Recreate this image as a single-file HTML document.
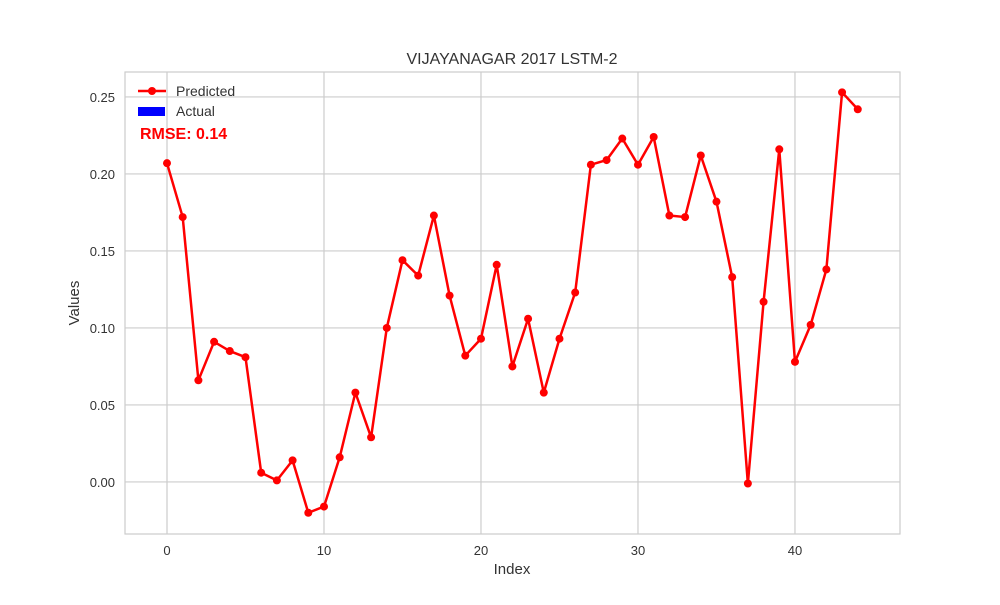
<!DOCTYPE html>
<html><head><meta charset="utf-8"><style>
body{margin:0;background:#fff;font-family:"Liberation Sans",sans-serif;}
</style></head><body>
<svg id="chart" width="1000" height="600" xmlns="http://www.w3.org/2000/svg" font-family="Liberation Sans, sans-serif">
<rect width="1000" height="600" fill="#fff"/>
<g id="grid"></g>
<rect x="125" y="72" width="775" height="462" fill="none" stroke="#ccc" stroke-width="1.2"/>
<g id="ticks"></g>
<g id="series"></g>
<text x="512" y="64" text-anchor="middle" font-size="16" fill="#333">VIJAYANAGAR 2017 LSTM-2</text>
<text x="512" y="574" text-anchor="middle" font-size="15" fill="#333">Index</text>
<text x="79" y="303" text-anchor="middle" font-size="15" fill="#333" transform="rotate(-90 79 303)">Values</text>
<g>
<g>
<line x1="138" y1="91" x2="166" y2="91" stroke="red" stroke-width="2.5"/><circle cx="152" cy="91" r="4" fill="red"/>
<text x="176" y="96" font-size="14" fill="#333">Predicted</text></g>
<g>
<rect x="138" y="107" width="27" height="9" fill="blue"/>
<text x="176" y="116" font-size="14" fill="#333">Actual</text></g>
</g>
<text x="140" y="139" font-size="16" font-weight="bold" fill="red">RMSE: 0.14</text>
</svg>
<script>
const predicted=[0.207,0.172,0.066,0.091,0.085,0.081,0.006,0.001,0.014,-0.020,-0.016,0.016,0.058,0.029,0.100,0.144,0.134,0.173,0.121,0.082,0.093,0.141,0.075,0.106,0.058,0.093,0.123,0.206,0.209,0.223,0.206,0.224,0.173,0.172,0.212,0.182,0.133,-0.001,0.117,0.216,0.078,0.102,0.138,0.253,0.242];
const xTicks=[0,10,20,30,40];
const yTicks=[0.00,0.05,0.10,0.15,0.20,0.25];
const L=125,R=900,T=72,B=534;
const xmin=-2.675,xmax=46.69,ymin=-0.0338,ymax=0.2662;
const xs=v=>L+(v-xmin)/(xmax-xmin)*(R-L);
const ys=v=>B-(v-ymin)/(ymax-ymin)*(B-T);
const NS="http://www.w3.org/2000/svg";
const grid=document.getElementById('grid'),ticks=document.getElementById('ticks'),ser=document.getElementById('series');
function mk(t,a,p){const e=document.createElementNS(NS,t);for(const k in a)e.setAttribute(k,a[k]);p.appendChild(e);return e;}
xTicks.forEach(v=>{
 const l=mk('line',{x1:xs(v),x2:xs(v),y1:T,y2:B,stroke:'#ccc','stroke-width':1.2},grid);
 
 
 const t=mk('text',{x:xs(v),y:555,'text-anchor':'middle','font-size':13,fill:'#333'},ticks);
 t.textContent=v;
 
 
});
yTicks.forEach(v=>{
 const l=mk('line',{x1:L,x2:R,y1:ys(v),y2:ys(v),stroke:'#ccc','stroke-width':1.2},grid);
 
 
 const t=mk('text',{x:115,y:ys(v)+5,'text-anchor':'end','font-size':13,fill:'#333'},ticks);
 t.textContent=v.toFixed(2);
 
 
});
const pl=mk('polyline',{points:predicted.map((v,i)=>xs(i)+','+ys(v)).join(' '),fill:'none',stroke:'red','stroke-width':2.5,'stroke-linejoin':'round'},ser);


predicted.forEach((v,i)=>{
 const c=mk('circle',{cx:xs(i),cy:ys(v),r:4,fill:'red'},ser);
 
 
});
</script>
</body></html>
